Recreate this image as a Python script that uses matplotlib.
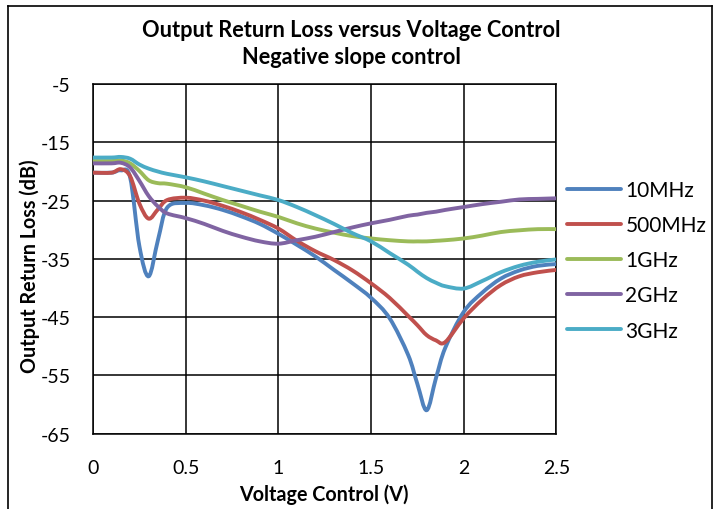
import numpy as np
import matplotlib
matplotlib.use("Agg")
from matplotlib import pyplot as plt
from matplotlib.lines import Line2D
from matplotlib.path import Path
from matplotlib.patches import PathPatch

plt.rcParams['font.family'] = ['Lato', 'DejaVu Sans']
plt.rcParams['axes.unicode_minus'] = False

# control voltage (V)
volts = [0, 0.1, 0.15, 0.2, 0.25, 0.3, 0.35, 0.4, 0.5, 0.6, 0.7, 0.8, 0.9, 1.0,
         1.1, 1.2, 1.3, 1.4, 1.5, 1.6, 1.7, 1.75, 1.8, 1.85, 1.9, 2.0, 2.1, 2.2,
         2.3, 2.4, 2.5]

# output return loss (dB)
rl_10mhz = [-20.2, -20.2, -19.8, -21.0, -32.8, -38.0, -31.8, -26.2, -25.4, -25.8,
            -26.6, -27.7, -29.0, -30.7, -32.6, -34.6, -36.9, -39.2, -41.7, -45.2,
            -51.5, -56.5, -61.0, -55.5, -50.3, -44.1, -40.8, -38.4, -37.0, -36.2, -35.9]
rl_500mhz = [-20.2, -20.2, -19.6, -20.8, -25.5, -28.1, -26.5, -24.9, -24.5, -25.0,
             -25.9, -27.0, -28.3, -29.8, -31.9, -33.7, -35.2, -37.0, -39.2, -41.7,
             -44.8, -46.4, -48.1, -49.0, -49.3, -45.2, -42.0, -39.5, -38.0, -37.3, -36.9]
rl_1ghz = [-18.2, -18.2, -18.1, -18.6, -19.9, -21.5, -22.0, -22.1, -22.7, -23.8,
           -24.9, -25.9, -26.9, -27.8, -28.9, -29.8, -30.5, -31.1, -31.5, -31.8,
           -32.0, -32.0, -32.0, -31.9, -31.8, -31.5, -31.0, -30.4, -30.1, -29.9, -29.9]
rl_2ghz = [-18.6, -18.6, -18.5, -19.3, -21.6, -24.2, -26.0, -27.2, -28.0, -29.0,
           -30.2, -31.2, -32.0, -32.4, -31.8, -31.2, -30.4, -29.6, -28.9, -28.3,
           -27.6, -27.4, -27.1, -26.9, -26.6, -26.1, -25.6, -25.2, -24.8, -24.7, -24.6]
rl_3ghz = [-17.6, -17.6, -17.5, -17.8, -18.8, -19.5, -20.0, -20.4, -21.0, -21.7,
           -22.5, -23.3, -24.1, -24.9, -26.1, -27.5, -29.0, -30.6, -32.0, -34.0,
           -36.0, -37.2, -38.3, -39.1, -39.7, -40.1, -38.8, -37.3, -36.2, -35.5, -35.1]

labels = ['10MHz', '500MHz', '1GHz', '2GHz', '3GHz']
colors = ['#4F81BD', '#C0504D', '#9BBB59', '#8064A2', '#4BACC6']
xticks = [0, 0.5, 1, 1.5, 2, 2.5]
xticklabels = ['0', '0.5', '1', '1.5', '2', '2.5']
yticks = [-5, -15, -25, -35, -45, -55, -65]


def smooth_path(x, y):
    # bezier path through the points, spreadsheet-style smoothed line
    p = np.column_stack([x, y]).astype(float)
    ext = np.vstack([p[0], p, p[-1]])
    verts = [p[0]]
    codes = [Path.MOVETO]
    for i in range(len(p) - 1):
        p0, p1, p2, p3 = ext[i], ext[i + 1], ext[i + 2], ext[i + 3]
        c1 = p1 + (p2 - p0) / 6.0
        c2 = p2 - (p3 - p1) / 6.0
        verts += [c1, c2, p2]
        codes += [Path.CURVE4] * 3
    return Path(verts, codes)


fig = plt.figure(figsize=(7.14, 5.10), dpi=100)
ax = fig.add_axes([0.1303, 0.148, 0.649, 0.685])

series = [rl_10mhz, rl_500mhz, rl_1ghz, rl_2ghz, rl_3ghz]
handles = []
for y, lab, c in zip(series, labels, colors):
    ax.add_patch(PathPatch(smooth_path(volts, y), facecolor='none', edgecolor=c,
                           lw=2.8, capstyle='round', joinstyle='round', zorder=3))
    handles.append(Line2D([], [], color=c, lw=2.8, solid_capstyle='round'))

ax.set_xlim(0, 2.5)
ax.set_ylim(-65, -5)
ax.set_xticks(xticks)
ax.set_xticklabels(xticklabels)
ax.set_yticks(yticks)
ax.grid(True, color='black', lw=1.1)
ax.set_axisbelow(True)
ax.tick_params(axis='both', length=0, labelsize=14)
ax.tick_params(axis='x', pad=18)
ax.tick_params(axis='y', pad=16)
for s in ax.spines.values():
    s.set_color('black')
    s.set_linewidth(1.1)

fig.text(324/714, 1 - 495/510, 'Voltage Control (V)', ha='center', va='center',
         fontsize=14.2, fontweight='bold')
fig.text(30/714, 1 - 266/510, 'Output Return Loss (dB)', ha='center', va='center',
         rotation=90, fontsize=14.2, fontweight='bold')

fig.text(0.492, 0.941, 'Output Return Loss versus Voltage Control', ha='center',
         va='center', fontsize=15.7, fontweight='bold')
fig.text(0.492, 0.888, 'Negative slope control', ha='center', va='center',
         fontsize=15.7, fontweight='bold')

ax.legend(handles, labels, loc='upper left', bbox_to_anchor=(1.005, 0.75),
          frameon=False, fontsize=15, handlelength=2.6, handletextpad=0.2,
          labelspacing=0.73, borderaxespad=0)

# chart border
for xs, ys in [([8/714, 8/714], [0, 1 - 7/510]),
               ([8/714, 712/714], [1 - 7/510, 1 - 7/510]),
               ([712/714, 712/714], [0, 1 - 7/510])]:
    fig.add_artist(Line2D(xs, ys, color='black', lw=1.2))

fig.savefig('out.png', dpi=100)
